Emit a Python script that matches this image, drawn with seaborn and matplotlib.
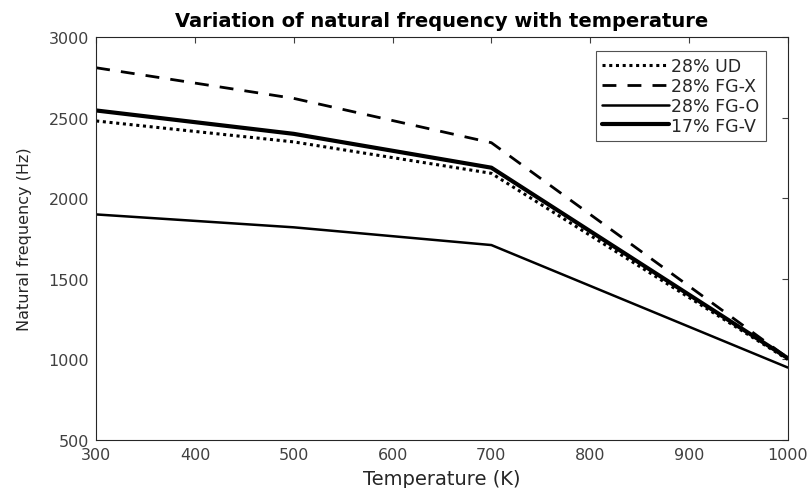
import seaborn as sns
import pandas as pd
import matplotlib.pyplot as plt

temperature = [300, 500, 700, 1000]
ud_28 = [2480, 2350, 2155, 1000]
fgx_28 = [2810, 2620, 2345, 1010]
fgo_28 = [1900, 1820, 1710, 950]
fgv_17 = [2545, 2400, 2190, 1008]
labels = ["28% UD", "28% FG-X", "28% FG-O", "17% FG-V"]

df = pd.DataFrame({"Temperature": temperature * 4,
                   "Frequency": ud_28 + fgx_28 + fgo_28 + fgv_17,
                   "Case": [l for l in labels for _ in temperature]})

sns.set_style("white")
# wide sans to mimic the horizontally stretched reference text
plt.rcParams["font.family"] = ["DejaVu Sans"]

fig = plt.figure(figsize=(8.08, 4.89), dpi=100)
ax = fig.add_axes([0.119, 0.098, 0.856, 0.824])

styles = {"28% UD": dict(ls=(0, (1, 1.2)), lw=2.2),
          "28% FG-X": dict(ls=(0, (5, 4)), lw=2.0),
          "28% FG-O": dict(ls="-", lw=1.8),
          "17% FG-V": dict(ls="-", lw=3.0)}
for lab in labels:
    sns.lineplot(data=df[df["Case"] == lab], x="Temperature", y="Frequency",
                 color="black", label=lab, ax=ax, linestyle=styles[lab]["ls"],
                 linewidth=styles[lab]["lw"])

ax.set_xlim(300, 1000)
ax.set_ylim(500, 3000)
ax.set_xticks(range(300, 1001, 100))
ax.set_yticks(range(500, 3001, 500))
ax.set_xlabel("Temperature (K)", fontsize=14, color="#262626", labelpad=5)
ax.set_ylabel("Natural frequency (Hz)", fontsize=11.5, color="#262626", labelpad=12)
ax.set_title("Variation of natural frequency with temperature", fontsize=14,
             fontweight="bold", pad=8, color="black")
ax.tick_params(direction="in", length=4, labelsize=11.5, colors="#404040", pad=5,
               top=True, right=True, labeltop=False, labelright=False)
for s in ax.spines.values():
    s.set_color("#262626")
    s.set_linewidth(0.8)

leg = ax.legend(loc="upper right", bbox_to_anchor=(0.968, 0.965), fontsize=12.5,
                frameon=True, fancybox=False, handlelength=3.85, borderaxespad=0,
                labelspacing=0.1, handletextpad=0.15, borderpad=0.35)
leg.get_frame().set_edgecolor("#262626")
leg.get_frame().set_linewidth(0.8)

plt.savefig("out.png", dpi=100)
